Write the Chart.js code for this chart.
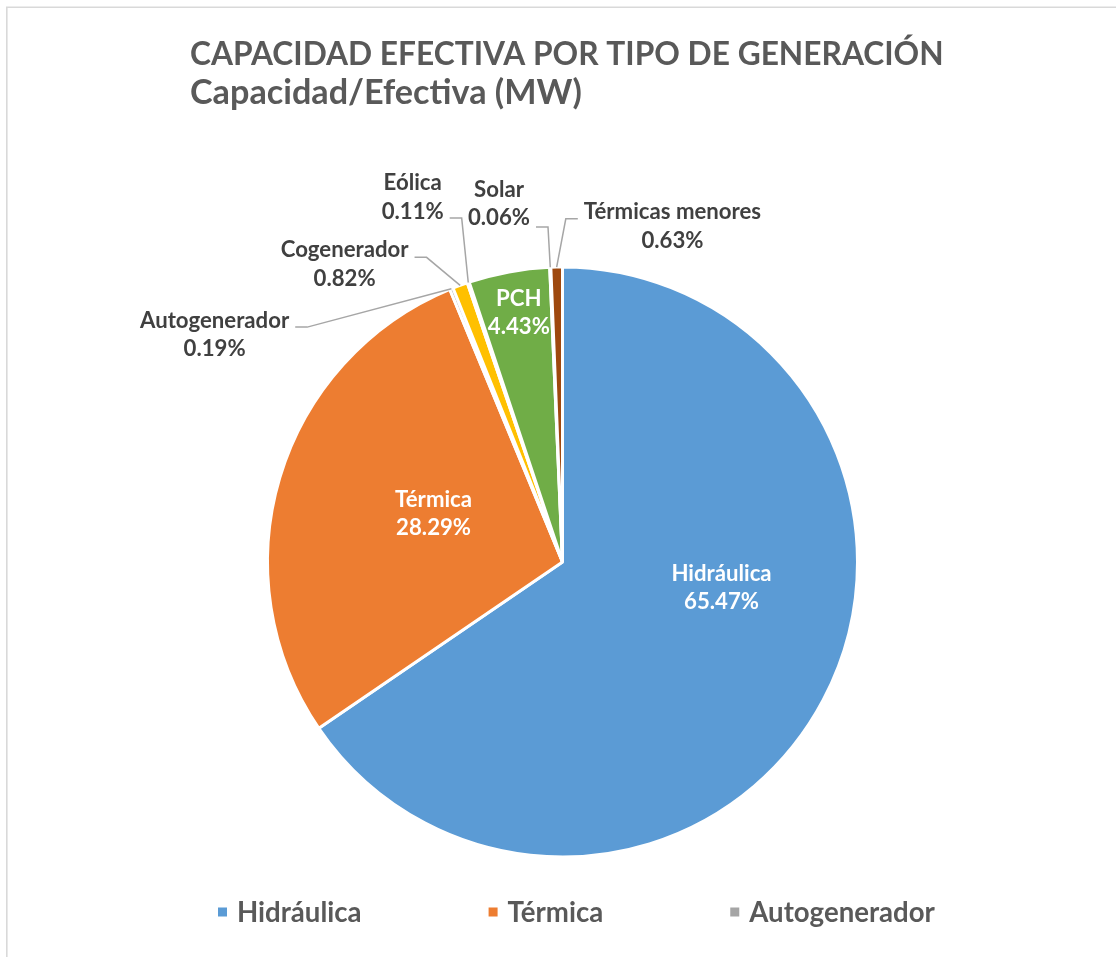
<!DOCTYPE html>
<html>
<head>
<meta charset="utf-8">
<script src="https://cdn.jsdelivr.net/npm/chart.js@4.4.0/dist/chart.umd.min.js"></script>
<style>
  html, body { margin: 0; padding: 0; background: #ffffff; }
  #wrap { position: relative; width: 1116px; height: 957px; }
</style>
</head>
<body>
<div id="wrap"><canvas id="c" width="1116" height="957"></canvas></div>
<script>
// ---------- data ----------
const categories = ['Hidráulica', 'Térmica', 'Autogenerador', 'Cogenerador', 'Eólica', 'PCH', 'Solar', 'Térmicas menores'];
const shares = [65.47, 28.29, 0.19, 0.82, 0.11, 4.43, 0.06, 0.63];
const shareLabels = ['65.47%', '28.29%', '0.19%', '0.82%', '0.11%', '4.43%', '0.06%', '0.63%'];
const sliceColors = ['#5B9BD5', '#ED7D31', '#A5A5A5', '#FFC000', '#4472C4', '#70AD47', '#264478', '#9E480E'];
const titleLines = ['CAPACIDAD EFECTIVA POR TIPO DE GENERACIÓN', 'Capacidad/Efectiva (MW)'];
const legendItemCount = 3;

// ---------- label placement (style) ----------
// inside: fx, fy = offset of label centre from pie centre as fraction of radius
// outside: dx, dy = offset of label centre from slice's outer mid point; ly = leader y offset from label centre
const labelPlacement = [
  { inside: true, fx: 0.539, fy: 0.088 },
  { inside: true, fx: -0.437, fy: -0.163 },
  { inside: false, dx: -236.8, dy: 45.9, ly: -7.5 },
  { inside: false, dx: -115.5, dy: -21, ly: -7 },
  { inside: false, dx: -55.6, dy: -85.4, ly: 21 },
  { inside: true, fx: -0.148, fy: -0.844 },
  { inside: false, dx: -51.3, dy: -63.3, ly: 23 },
  { inside: false, dx: 115.8, dy: -40.8, ly: -7.5 }
];

const FONT = 'Lato, "Open Sans", "DejaVu Sans", sans-serif';

const decorPlugin = {
  id: 'decor',
  beforeDraw(chart) {
    const ctx = chart.ctx;
    ctx.save();
    ctx.fillStyle = '#ffffff';
    ctx.fillRect(0, 0, chart.width, chart.height);
    ctx.strokeStyle = '#d9d9d9';
    ctx.lineWidth = 1.6;
    ctx.beginPath();
    ctx.moveTo(6.8, chart.height);
    ctx.lineTo(6.8, 7.3);
    ctx.lineTo(chart.width, 7.3);
    ctx.stroke();
    // title
    ctx.fillStyle = '#595959';
    ctx.textAlign = 'left';
    ctx.textBaseline = 'alphabetic';
    ctx.font = 'bold 31.7px ' + FONT;
    ctx.fillText(titleLines[0], 190, 65);
    ctx.font = 'bold 34.2px ' + FONT;
    ctx.fillText(titleLines[1], 190, 104);
    ctx.restore();
  },
  afterDatasetsDraw(chart) {
    const ctx = chart.ctx;
    const meta = chart.getDatasetMeta(0);
    const fs = 22.2;
    const lineGap = 28.5;
    ctx.save();
    ctx.font = 'bold ' + fs + 'px ' + FONT;
    ctx.textAlign = 'center';
    ctx.textBaseline = 'alphabetic';
    meta.data.forEach((arc, i) => {
      const p = labelPlacement[i];
      const lines = [categories[i], shareLabels[i]];
      const R = arc.outerRadius;
      let cx, cy;
      if (p.inside) {
        cx = arc.x + p.fx * R;
        cy = arc.y + p.fy * R;
        ctx.fillStyle = '#ffffff';
      } else {
        const mid = (arc.startAngle + arc.endAngle) / 2;
        const ax = arc.x + Math.cos(mid) * R;
        const ay = arc.y + Math.sin(mid) * R;
        cx = ax + p.dx;
        cy = ay + p.dy;
        const hw = Math.max(ctx.measureText(lines[0]).width, ctx.measureText(lines[1]).width) / 2;
        const dir = p.dx < 0 ? 1 : -1;
        const sx = cx + dir * (hw + 6);
        const ex = sx + dir * 12;
        const y = cy + p.ly;
        ctx.strokeStyle = '#a6a6a6';
        ctx.lineWidth = 1.5;
        ctx.beginPath();
        ctx.moveTo(sx, y);
        ctx.lineTo(ex, y);
        ctx.lineTo(ax, ay);
        ctx.stroke();
        ctx.fillStyle = '#404040';
      }
      const capHalf = 7.2;
      ctx.fillText(lines[0], cx, cy - lineGap / 2 + capHalf);
      ctx.fillText(lines[1], cx, cy + lineGap / 2 + capHalf);
    });
    // legend
    ctx.font = 'bold 27.6px ' + FONT;
    ctx.textAlign = 'left';
    let x = 218;
    const ly = 912;
    for (let i = 0; i < legendItemCount; i++) {
      ctx.fillStyle = sliceColors[i];
      ctx.fillRect(x, ly - 4.5, 9, 9);
      ctx.fillStyle = '#595959';
      ctx.fillText(categories[i], x + 19, ly + 9.8);
      x += 19 + ctx.measureText(categories[i]).width + 127;
    }
    ctx.restore();
  }
};

new Chart(document.getElementById('c'), {
  type: 'pie',
  data: {
    labels: categories,
    datasets: [{
      data: shares,
      backgroundColor: sliceColors,
      borderColor: '#ffffff',
      borderWidth: 3,
      radius: 295
    }]
  },
  options: {
    responsive: false,
    animation: false,
    layout: { padding: { left: 200, right: 191, top: 266, bottom: 99 } },
    plugins: {
      legend: { display: false },
      title: { display: false },
      tooltip: { enabled: false }
    }
  },
  plugins: [decorPlugin]
});
</script>
</body>
</html>
